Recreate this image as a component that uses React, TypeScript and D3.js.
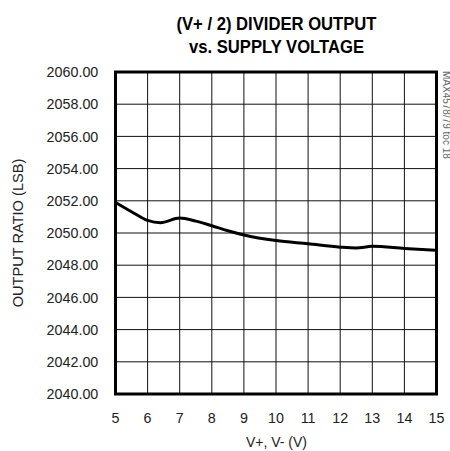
import React from "react";
import * as d3 from "d3";

const xTicks = [5, 6, 7, 8, 9, 10, 11, 12, 13, 14, 15];
const yTicks = [2040, 2042, 2044, 2046, 2048, 2050, 2052, 2054, 2056, 2058, 2060];
const supplyV = [5, 5.5, 6, 6.4, 7, 7.5, 8, 8.5, 9, 10, 11, 12, 12.5, 13, 14, 15];
const outputLSB = [2051.9, 2051.32, 2050.78, 2050.64, 2050.93, 2050.74, 2050.45, 2050.14, 2049.88, 2049.53, 2049.33, 2049.12, 2049.07, 2049.17, 2049.04, 2048.92];
const titleLines = ["(V+ / 2) DIVIDER OUTPUT", "vs. SUPPLY VOLTAGE"];
const xTitle = "V+, V- (V)";
const yTitle = "OUTPUT RATIO (LSB)";
const sideNote = "MAX4578/79 toc 18";

const W = 450;
const H = 451;
const left = 115.5, right = 436.5, top = 72, bottom = 394;
const FONT = "'Liberation Sans', Arial, sans-serif";

export default function App() {
  const x = d3.scaleLinear().domain([5, 15]).range([left, right]);
  const y = d3.scaleLinear().domain([2040, 2060]).range([bottom, top]);
  const pts = supplyV.map((v, i) => [v, outputLSB[i]] as [number, number]);
  const line = d3
    .line<[number, number]>()
    .x((d) => x(d[0]))
    .y((d) => y(d[1]))
    .curve(d3.curveMonotoneX);

  return (
    <div style={{ position: "absolute", left: 0, top: 0 }}>
      <svg width={W} height={H} style={{ display: "block", background: "#fff" }}>
        {titleLines.map((t, i) => (
          <text
            key={t}
            transform={`translate(276.5,${29.5 + i * 23.7}) scale(0.9,1)`}
            textAnchor="middle"
            fontFamily={FONT}
            fontWeight="bold"
            fontSize={18.5}
            fill="#000"
          >
            {t}
          </text>
        ))}
        {/* grid */}
        {xTicks.slice(1, -1).map((t) => (
          <line key={"gx" + t} x1={x(t)} x2={x(t)} y1={top} y2={bottom} stroke="#111" strokeWidth={1} />
        ))}
        {yTicks.slice(1, -1).map((t) => (
          <line key={"gy" + t} x1={left} x2={right} y1={y(t)} y2={y(t)} stroke="#111" strokeWidth={1} />
        ))}
        {/* curve */}
        <path d={line(pts) || ""} fill="none" stroke="#000" strokeWidth={3} strokeLinejoin="round" />
        {/* frame */}
        <rect x={left} y={top} width={right - left} height={bottom - top} fill="none" stroke="#000" strokeWidth={3} />
        {/* y tick labels */}
        {yTicks.map((t) => (
          <text
            key={"yl" + t}
            x={98.3}
            y={y(t)}
            dy="0.36em"
            textAnchor="end"
            fontFamily={FONT}
            fontSize={14.3}
            fill="#222"
          >
            {t.toFixed(2)}
          </text>
        ))}
        {/* x tick labels */}
        {xTicks.map((t) => (
          <text
            key={"xl" + t}
            x={x(t)}
            y={423}
            textAnchor="middle"
            fontFamily={FONT}
            fontSize={14.3}
            fill="#222"
          >
            {t}
          </text>
        ))}
        <text
          x={276.5}
          y={447}
          textAnchor="middle"
          fontFamily={FONT}
          fontSize={14}
          fill="#222"
        >
          {xTitle}
        </text>
        <text
          transform={`translate(22.5,233) rotate(-90)`}
          textAnchor="middle"
          fontFamily={FONT}
          fontSize={14.6}
          fill="#222"
        >
          {yTitle}
        </text>
        <text
          transform={`translate(442.5,71) rotate(90)`}
          textAnchor="start"
          fontFamily={FONT}
          fontSize={10}
          fill="#666"
        >
          {sideNote}
        </text>
      </svg>
    </div>
  );
}
